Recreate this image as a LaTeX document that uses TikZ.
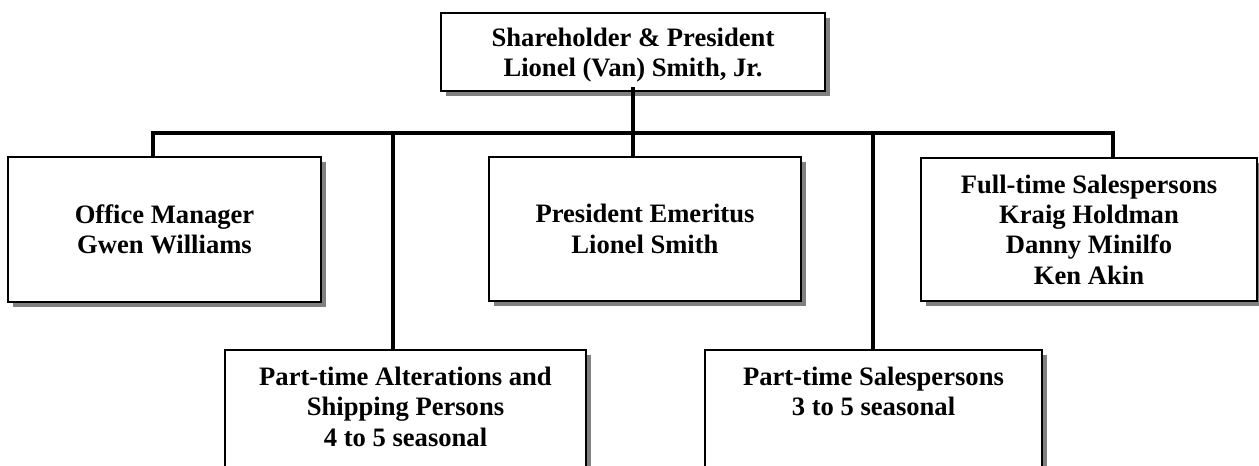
\documentclass[tikz,border=0pt]{standalone}
\usepackage{fontspec}
\setmainfont{Liberation Serif}
\usepackage{xcolor}
\usetikzlibrary{positioning, calc, shadows}
\definecolor{shadowgray}{RGB}{128, 128, 128}

\begin{document}
\begin{tikzpicture}[
    x=1pt, y=-1pt,
    unit/.style={rectangle, draw, line width=1.8pt, fill=white, inner sep=0pt, align=center,
        font=\fontsize{26.6}{30.4}\selectfont\bfseries,
        drop shadow={shadow xshift=5pt, shadow yshift=-5pt, fill=shadowgray, opacity=1}},
    openunit/.style={unit, anchor=north, inner xsep=0pt, inner ysep=17pt, text depth=120pt},
    link/.style={line width=3.2pt}
]
\useasboundingbox (0,0) rectangle (1259,466);
\clip (0,0) rectangle (1259,466);

% Top
\node[unit, minimum width=384, minimum height=78, text depth=-2pt] (pres) at (633,52)
    {Shareholder \& President\\Lionel (Van) Smith, Jr.};

% Second row
\node[unit, minimum width=313, minimum height=145] (office) at (164.5,229.5)
    {Office Manager\\Gwen Williams};
\node[unit, minimum width=312, minimum height=144] (emer) at (645,229)
    {President Emeritus\\Lionel Smith};
\node[unit, minimum width=336, minimum height=143] (fulltime) at (1089,229.5)
    {Full-time Salespersons\\Kraig Holdman\\Danny Minilfo\\Ken Akin};

% Bottom row (runs off the page)
\node[openunit, minimum width=361] (alter) at (405.5,349)
    {Part-time Alterations and\\Shipping Persons\\4 to 5 seasonal};
\node[openunit, minimum width=337] (psales) at (873.5,349)
    {Part-time Salespersons\\3 to 5 seasonal};

% Bus and drops
\coordinate (busL) at (153,133);
\coordinate (busR) at (1113,133);
\coordinate (dropA) at (393,133);
\coordinate (dropB) at (873,133);
\draw[link] (busL |- office.north) -- (busL) -- (busR) -- (busR |- fulltime.north);
\draw[link] ([yshift=5pt]pres.south) -- (pres.south |- emer.north);
\draw[link] (dropA) -- (dropA |- alter.north);
\draw[link] (dropB) -- (dropB |- psales.north);

\end{tikzpicture}
\end{document}
